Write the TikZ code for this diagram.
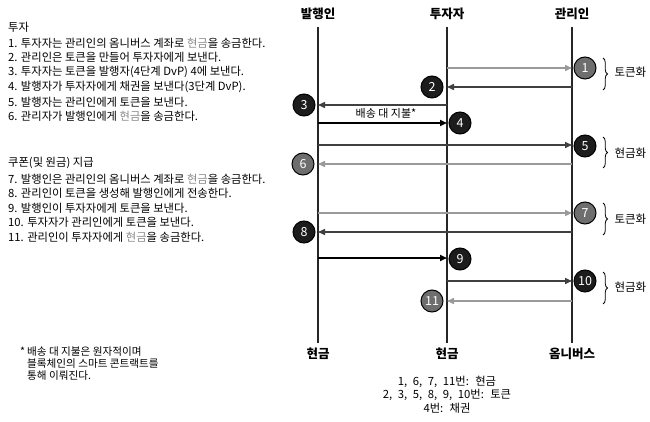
\documentclass[tikz,border=0pt]{standalone}
\usepackage{fontspec}
\setmainfont{Noto Sans CJK KR}
\newfontfamily\legfont{Noto Sans CJK KR}[WordSpace=2.2]
\usetikzlibrary{arrows.meta,decorations.pathreplacing}
\definecolor{gr}{HTML}{9A9A9A}
\definecolor{dk}{HTML}{404040}
\definecolor{cg}{HTML}{6E6E6E}
\definecolor{cb}{HTML}{1C1C1C}
\definecolor{tg}{HTML}{8A8A8A}
\begin{document}
\begin{tikzpicture}[x=1pt,y=-1pt,
  life/.style={line width=1.4pt, draw=black!85},
  hdr/.style={font=\fontsize{12.5}{14}\selectfont\bfseries},
  foot/.style={font=\fontsize{12.5}{14}\selectfont\bfseries},
  arr/.style={line width=1.5pt, -{Triangle[length=7pt,width=6pt]}},
  garr/.style={arr, draw=gr},
  darr/.style={arr, draw=dk},
  barr/.style={arr, draw=black, line width=1.7pt},
  num/.style={circle, minimum size=22pt, inner sep=0pt, draw=black, line width=1pt, text=white, font=\fontsize{12.5}{12}\selectfont},
  gnum/.style={num, fill=cg},
  bnum/.style={num, fill=cb},
  brc/.style={decorate, decoration={brace, amplitude=4.5pt}, line width=0.8pt},
  side/.style={font=\fontsize{11.5}{13}\selectfont, anchor=west},
  item/.style={font=\fontsize{11.3}{13}\selectfont, anchor=west, inner sep=0pt},
  note/.style={font=\fontsize{10.6}{12}\selectfont, anchor=west, inner sep=0pt},
  leg/.style={font=\legfont\fontsize{11.3}{13}\selectfont, inner sep=0pt},
]
\useasboundingbox (0,0) rectangle (650,422);
\fill[white] (0,0) rectangle (650,422);

% headers
\node[hdr] (hI) at (318,14) {발행인};
\node[hdr] (hV) at (447,14) {투자자};
\node[hdr] (hC) at (572,14) {관리인};

% lifelines
\coordinate (I0) at (318,27); \coordinate (I1) at (318,343);
\coordinate (V0) at (447,27); \coordinate (V1) at (447,343);
\coordinate (C0) at (572,27); \coordinate (C1) at (572,343);
\draw[life] (I0) -- (I1);
\draw[life] (V0) -- (V1);
\draw[life] (C0) -- (C1);

% bottom labels
\node[foot] (fI) at (318,354) {현금};
\node[foot] (fV) at (447,354) {현금};
\node[foot] (fC) at (572,354) {옴니버스};

% arrow end points
\coordinate (v1) at (447,68);  \coordinate (c1) at (572,68);
\coordinate (c2) at (572,87);  \coordinate (v2) at (447,87);
\coordinate (v3) at (447,105); \coordinate (i3) at (318,105);
\coordinate (i4) at (318,123); \coordinate (v4) at (447,123);
\coordinate (i5) at (318,145); \coordinate (c5) at (572,145);
\coordinate (c6) at (572,164); \coordinate (i6) at (318,164);
\coordinate (i7) at (318,213); \coordinate (c7) at (572,213);
\coordinate (c8) at (572,232); \coordinate (i8) at (318,232);
\coordinate (i9) at (318,258); \coordinate (v9) at (447,258);
\coordinate (v10) at (447,281); \coordinate (c10) at (572,281);
\coordinate (c11) at (572,301); \coordinate (v11) at (447,301);

\draw[garr] (v1) -- (c1);
\draw[darr] (c2) -- (v2);
\draw[darr] (v3) -- (i3);
\draw[barr] (i4) -- (v4);
\draw[darr] (i5) -- (c5);
\draw[garr] (c6) -- (i6);
\draw[garr] (i7) -- (c7);
\draw[darr] (c8) -- (i8);
\draw[barr] (i9) -- (v9);
\draw[darr] (v10) -- (c10);
\draw[garr] (c11) -- (v11);

\node[font=\fontsize{11}{13}\selectfont] (dvp) at (386,113) {배송 대 지불*};

% numbered circles
\node[gnum] (n1) at (585,68) {1};
\node[bnum] (n2) at (432,87) {2};
\node[bnum] (n3) at (304,105) {3};
\node[bnum] (n4) at (460,123) {4};
\node[bnum] (n5) at (585,146) {5};
\node[gnum] (n6) at (303,164) {6};
\node[gnum] (n7) at (585,213) {7};
\node[bnum] (n8) at (304,232) {8};
\node[bnum] (n9) at (460,259) {9};
\node[bnum] (n10) at (585,281) {10};
\node[gnum] (n11) at (432,301) {11};

% braces
\coordinate (b1a) at (603,58);  \coordinate (b1b) at (603,90);
\coordinate (b2a) at (603,137); \coordinate (b2b) at (603,168);
\coordinate (b3a) at (603,203); \coordinate (b3b) at (603,235);
\coordinate (b4a) at (603,272); \coordinate (b4b) at (603,304);
\draw[brc] (b1a) -- (b1b);
\draw[brc] (b2a) -- (b2b);
\draw[brc] (b3a) -- (b3b);
\draw[brc] (b4a) -- (b4b);
\node[side] (s1) at (611,72) {토큰화};
\node[side] (s2) at (611,153) {현금화};
\node[side] (s3) at (611,219) {토큰화};
\node[side] (s4) at (611,287) {현금화};

% left text
\node[item] (t0) at (8,27) {투자};
\node[item] (t1) at (8,43) {1. 투자자는 관리인의 옴니버스 계좌로 \textcolor{tg}{현금}을 송금한다.};
\node[item] (t2) at (8,57.7) {2. 관리인은 토큰을 만들어 투자자에게 보낸다.};
\node[item] (t3) at (8,72.4) {3. 투자자는 토큰을 발행자(4단계 DvP) 4에 보낸다.};
\node[item] (t4) at (8,87.1) {4. 발행자가 투자자에게 채권을 보낸다(3단계 DvP).};
\node[item] (t5) at (8,101.8) {5. 발행자는 관리인에게 토큰을 보낸다.};
\node[item] (t6) at (8,116.5) {6. 관리자가 발행인에게 \textcolor{tg}{현금}을 송금한다.};

\node[item] (u0) at (8,163) {쿠폰(및 원금) 지급};
\node[item] (u7) at (8,179) {7. 발행인은 관리인의 옴니버스 계좌로 \textcolor{tg}{현금}을 송금한다.};
\node[item] (u8) at (8,193.5) {8. 관리인이 토큰을 생성해 발행인에게 전송한다.};
\node[item] (u9) at (8,208) {9. 발행인이 투자자에게 토큰을 보낸다.};
\node[item] (u10) at (8,222.5) {10. 투자자가 관리인에게 토큰을 보낸다.};
\node[item] (u11) at (8,237) {11. 관리인이 투자자에게 \textcolor{tg}{현금}을 송금한다.};

% footnote
\node[note] (f0) at (20,351) {*};
\node[note] (f1) at (27,352) {배송 대 지불은 원자적이며};
\node[note] (f2) at (27,364) {블록체인의 스마트 콘트랙트를};
\node[note] (f3) at (27,376) {통해 이뤄진다.};

% legend
\node[leg] (l1) at (447,382) {1, 6, 7, 11번: 현금};
\node[leg] (l2) at (447,395) {2, 3, 5, 8, 9, 10번: 토큰};
\node[leg] (l3) at (447,408) {4번: 채권};
\end{tikzpicture}
\end{document}
